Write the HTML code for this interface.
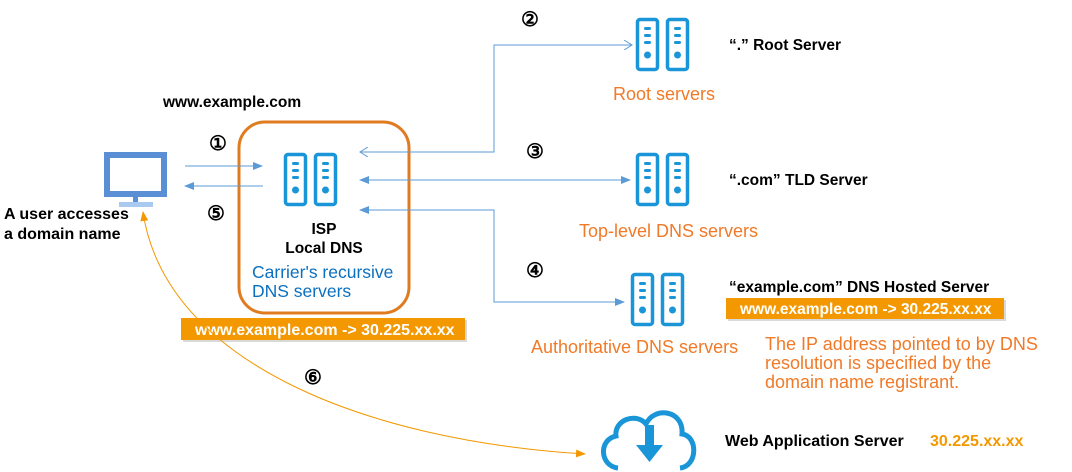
<!DOCTYPE html>
<html><head><meta charset="utf-8"><style>
body{margin:0;background:#fff;}
svg{display:block;font-family:"Liberation Sans",sans-serif;}
.b{font-weight:bold;font-size:15.5px;fill:#000;}
.o{font-size:18px;fill:#f07a28;}
.w{font-weight:bold;font-size:16px;fill:#fff;}
.n{font-weight:bold;font-size:20px;fill:#000;}
</style></head><body>
<svg width="1072" height="472" viewBox="0 0 1072 472">
<defs>
<marker id="af" markerWidth="10" markerHeight="10" refX="9" refY="5" orient="auto" markerUnits="userSpaceOnUse"><path d="M0,1 L10,5 L0,9 Z" fill="#5b9bd5"/></marker>
<marker id="ao" markerWidth="10" markerHeight="10" refX="9" refY="5" orient="auto" markerUnits="userSpaceOnUse"><path d="M1,0 L9,5 L1,10" fill="none" stroke="#5b9bd5" stroke-width="1"/></marker>
<marker id="ag" markerWidth="10" markerHeight="10" refX="9" refY="5" orient="auto-start-reverse" markerUnits="userSpaceOnUse"><path d="M0,1 L10,5 L0,9 Z" fill="#f39800"/></marker>
<g id="srv">
<rect x="1.5" y="1.5" width="20" height="50" rx="2.5" fill="none" stroke="#1a96d8" stroke-width="3.5"/>
<rect x="31.5" y="1.5" width="20" height="50" rx="2.5" fill="none" stroke="#1a96d8" stroke-width="3.5"/>
<g fill="#1a96d8"><rect x="8" y="9" width="7" height="3" rx="1.5"/><rect x="8" y="16" width="7" height="3" rx="1.5"/><rect x="8" y="23" width="7" height="3" rx="1.5"/><circle cx="11.5" cy="37" r="3.5"/>
<rect x="38" y="9" width="7" height="3" rx="1.5"/><rect x="38" y="16" width="7" height="3" rx="1.5"/><rect x="38" y="23" width="7" height="3" rx="1.5"/><circle cx="41.5" cy="37" r="3.5"/></g>
</g>
</defs>
<rect x="107" y="155" width="57" height="39" fill="none" stroke="#5b8fd5" stroke-width="6"/>
<rect x="133" y="197" width="5" height="5" fill="#5b8fd5"/>
<rect x="119" y="202" width="34" height="5" fill="#a9c9f0"/>
<text x="4" y="219" class="n" style="font-size:16px">A user accesses</text>
<text x="4" y="239" class="n" style="font-size:16px">a domain name</text>
<text x="163" y="107" class="b">www.example.com</text>
<rect x="239" y="122" width="170" height="191" rx="26" fill="none" stroke="#e07b20" stroke-width="3"/>
<use href="#srv" x="284" y="153"/>
<text x="324" y="234" class="b" text-anchor="middle" font-size="16">ISP</text>
<text x="324" y="253" class="b" text-anchor="middle" font-size="16">Local DNS</text>
<text x="252" y="278" style="font-size:17.5px;fill:#0a70c0">Carrier's recursive</text>
<text x="252" y="297" style="font-size:17.5px;fill:#0a70c0">DNS servers</text>
<rect x="183" y="320" width="284" height="22" fill="#c9c9c9" opacity="0.7"/>
<rect x="181" y="318" width="284" height="22" fill="#f39800"/>
<text x="195" y="335" class="w">www.example.com  -&gt; 30.225.xx.xx</text>
<g class="n"><text x="209" y="150">①</text><text x="207" y="220">⑤</text><text x="521" y="26">②</text><text x="526" y="158">③</text><text x="526" y="277">④</text><text x="304" y="384">⑥</text></g>
<g stroke="#5b9bd5" stroke-width="1" fill="none">
<line x1="185" y1="166" x2="262" y2="166" marker-end="url(#af)"/>
<line x1="263" y1="186" x2="185" y2="186" marker-end="url(#af)"/>
<path d="M632,45 H494 V152 H360" marker-end="url(#ao)"/>
<path d="M494,45 H632" marker-end="url(#ao)"/>
<line x1="362" y1="180" x2="630" y2="180" marker-end="url(#af)"/>
<line x1="630" y1="180" x2="360" y2="180" marker-end="url(#af)"/>
<path d="M360,210 H494 V302 H624" marker-end="url(#af)"/>
<path d="M494,210 H360" marker-end="url(#af)"/>
</g>
<path d="M585,454 C360,440 165,360 143,212" fill="none" stroke="#f39800" stroke-width="1" marker-start="url(#ag)" marker-end="url(#ag)"/>
<use href="#srv" x="636" y="18"/>
<text x="729" y="50" class="b">“.”   Root Server</text>
<text x="613" y="100" class="o">Root servers</text>
<use href="#srv" x="636" y="153"/>
<text x="729" y="185" class="b">“.com”   TLD Server</text>
<text x="579" y="237" class="o">Top-level DNS servers</text>
<use href="#srv" x="631" y="273"/>
<text x="729" y="292" class="b">“example.com”   DNS Hosted Server</text>
<rect x="728" y="300" width="278" height="21" fill="#c9c9c9" opacity="0.7"/>
<rect x="726" y="298" width="278" height="21" fill="#f39800"/>
<text x="740" y="314" class="w" style="font-size:15.5px">www.example.com  -&gt; 30.225.xx.xx</text>
<text x="531" y="353" class="o">Authoritative DNS servers</text>
<text x="765" y="350" class="o">The IP address pointed to by DNS</text>
<text x="765" y="369" class="o">resolution is specified by the</text>
<text x="765" y="388" class="o">domain name registrant.</text>
<path d="M618,468 C600,466 598,440 616,436 C614,420 636,412 646,424 C654,406 684,410 682,434 C698,436 698,466 680,468" fill="none" stroke="#1a96d8" stroke-width="5"/>
<rect x="645" y="425" width="9" height="22" fill="#1a96d8"/>
<path d="M636,445 H663 L649.5,462 Z" fill="#1a96d8"/>
<text x="725" y="446" class="b" style="font-size:16px">Web Application Server</text>
<text x="930" y="446" class="b" style="fill:#f39800;font-size:16px">30.225.xx.xx</text>
</svg>
</body></html>
